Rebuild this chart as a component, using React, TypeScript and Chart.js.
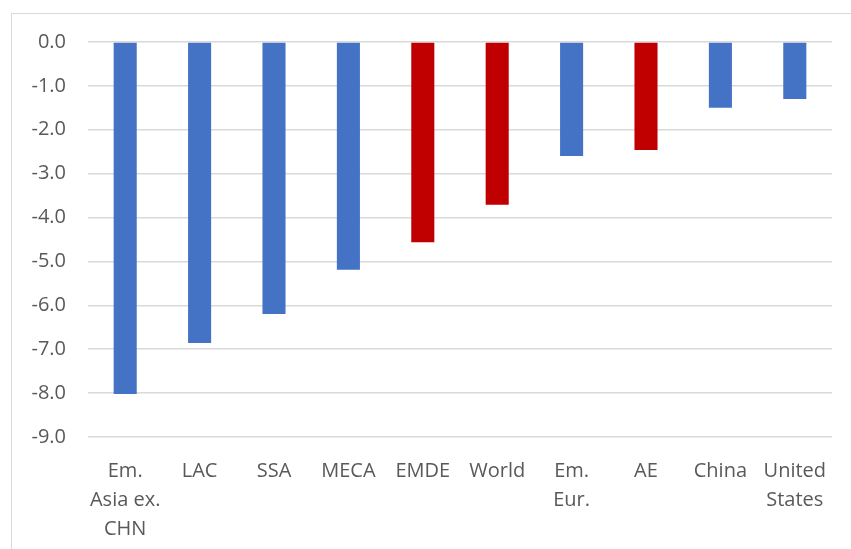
import React, { useEffect, useRef } from "react";
import { Chart, registerables } from "chart.js";

Chart.register(...registerables);

const categories: (string | string[])[] = [
  ["Em.", "Asia ex.", "CHN"],
  "LAC",
  "SSA",
  "MECA",
  "EMDE",
  "World",
  ["Em.", "Eur."],
  "AE",
  "China",
  ["United", "States"],
];
const values = [-8.02, -6.86, -6.2, -5.19, -4.56, -3.71, -2.6, -2.46, -1.5, -1.3];
const barColors = [
  "#4472C4", "#4472C4", "#4472C4", "#4472C4", "#C00000",
  "#C00000", "#4472C4", "#C00000", "#4472C4", "#4472C4",
];
const yMin = -9;
const yMax = 0;

export default function App() {
  const ref = useRef<HTMLCanvasElement | null>(null);
  useEffect(() => {
    document.body.style.overflow = "hidden";
    const ctx = ref.current!;
    const chart = new Chart(ctx, {
      type: "bar",
      data: {
        labels: categories,
        datasets: [
          {
            data: values,
            backgroundColor: barColors,
            borderWidth: 0,
            categoryPercentage: 1,
            barPercentage: 0.31,
          },
        ],
      },
      options: {
        animation: false,
        responsive: false,
        maintainAspectRatio: false,
        layout: { padding: { top: 42, right: 19, left: 0, bottom: 0 } },
        plugins: { legend: { display: false }, tooltip: { enabled: false } },
        scales: {
          x: {
            grid: { display: false },
            border: { display: false },
            ticks: {
              color: "#595959",
              font: { family: "Open Sans", size: 20, lineHeight: 1.45 },
              maxRotation: 0,
              autoSkip: false,
              padding: 12,
            },
            afterFit: (s: any) => {
              s.height = 112;
            },
          },
          y: {
            min: yMin,
            max: yMax,
            grid: { color: "#d9d9d9", lineWidth: 1.5, drawTicks: false },
            border: { display: false },
            ticks: {
              stepSize: 1,
              color: "#595959",
              font: { family: "Open Sans", size: 20 },
              padding: 22,
              callback: (v: any) => Number(v).toFixed(1),
            },
            afterFit: (s: any) => {
              s.width = 88;
            },
          },
        },
      },
    });
    return () => chart.destroy();
  }, []);
  return (
    <div style={{ position: "fixed", left: 0, top: 0, width: 851, height: 549, background: "#fff" }}>
      <div
        style={{
          position: "absolute",
          left: 11,
          top: 13,
          width: 840,
          height: 536,
          borderTop: "1.5px solid #d9d9d9",
          borderLeft: "1.5px solid #d9d9d9",
        }}
      />
      <canvas ref={ref} width={851} height={549} style={{ position: "absolute", left: 0, top: 0, width: 851, height: 549 }} />
    </div>
  );
}
